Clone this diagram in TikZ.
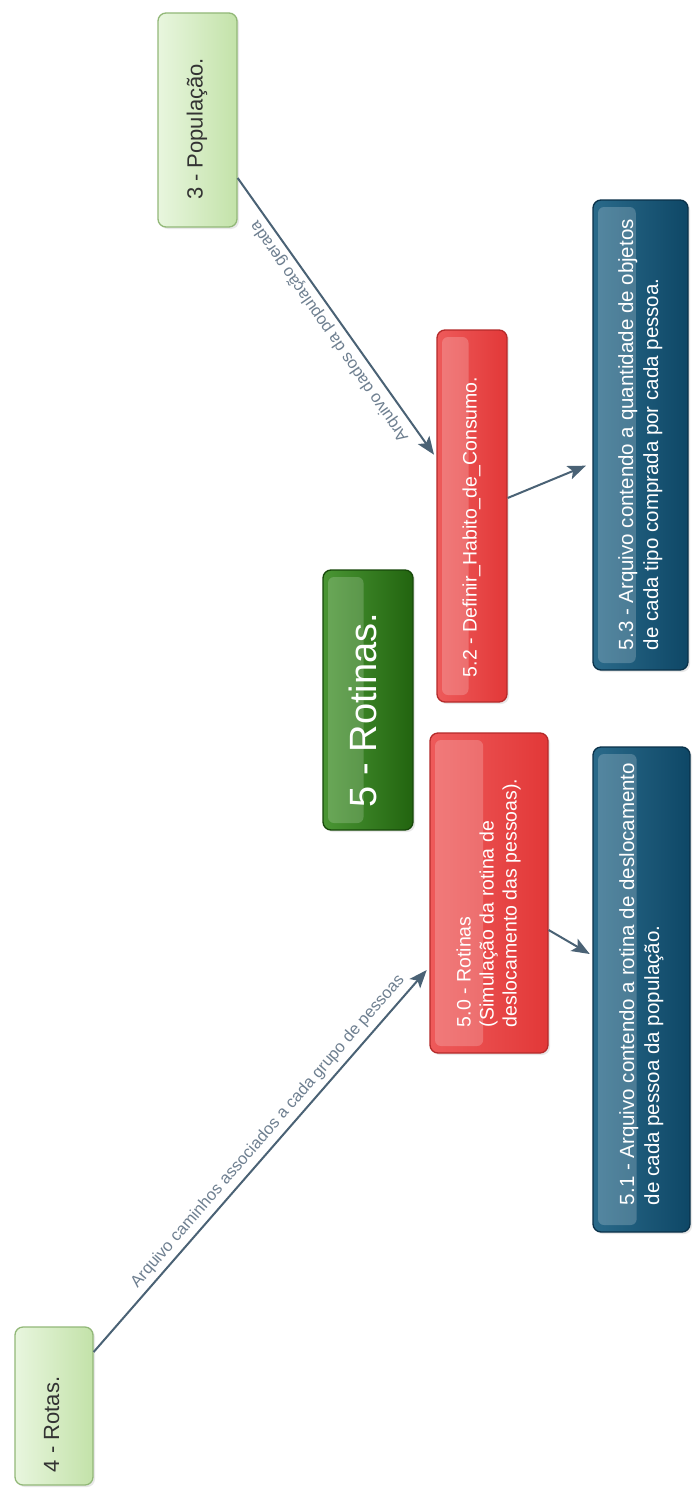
\documentclass[tikz,border=0pt]{standalone}
\usepackage{fontspec}
\usepackage{graphicx}
\setmainfont{Liberation Sans}
\usetikzlibrary{arrows.meta,calc,shadows}
\definecolor{lgA}{HTML}{E8F6DE}
\definecolor{lgB}{HTML}{C3E2A9}
\definecolor{lgD}{HTML}{92B878}
\definecolor{dgA}{HTML}{4A9634}
\definecolor{dgB}{HTML}{22640F}
\definecolor{dgD}{HTML}{17480A}
\definecolor{rdA}{HTML}{EE5A5A}
\definecolor{rdB}{HTML}{E23838}
\definecolor{rdD}{HTML}{B52A2A}
\definecolor{blA}{HTML}{2A6A8A}
\definecolor{blB}{HTML}{0E4766}
\definecolor{blD}{HTML}{0A3149}
\definecolor{arrc}{HTML}{4A6275}
\definecolor{lblc}{HTML}{6E7F90}
\definecolor{txtc}{HTML}{333333}
\newcommand\vtext[2]{\rotatebox{90}{\makebox[#1][l]{\begin{tabular}{@{}l@{}}#2\end{tabular}}}}
\tikzset{
  base/.style={rounded corners=8pt, line width=1.3pt, inner sep=0pt,
    drop shadow={opacity=.18, shadow xshift=2pt, shadow yshift=-2pt}},
  hl/.style={path picture={\fill[white,opacity=#1,rounded corners=6pt]
     ([shift={(5pt,-7pt)}]path picture bounding box.north west) rectangle
     ($(path picture bounding box.south west)!0.45!(path picture bounding box.south east)+(0pt,7pt)$);}},
  lgbox/.style={base, draw=lgD, left color=lgA, right color=lgB, text=txtc,
    font=\fontsize{22}{26}\selectfont},
  dgbox/.style={base, draw=dgD, left color=dgA, right color=dgB, text=white, hl=.18,
    font=\fontsize{38}{44}\selectfont},
  rdbox/.style={base, draw=rdD, left color=rdA, right color=rdB, text=white, hl=.2,
    font=\fontsize{19.5}{23}\selectfont},
  blbox/.style={base, draw=blD, left color=blA, right color=blB, text=white, hl=.2,
    font=\fontsize{20.5}{25}\selectfont},
  conn/.style={draw=arrc, line width=2pt, -{Stealth[length=18pt,width=14pt,inset=4pt]}},
  lbl/.style={text=lblc, font=\fontsize{16.5}{19}\selectfont, inner sep=5pt}
}
\begin{document}
\begin{tikzpicture}[x=1pt,y=-1pt]
\useasboundingbox (0,0) rectangle (693,1490);
\fill[white] (0,0) rectangle (693,1490);

\node[lgbox, minimum width=79pt, minimum height=214pt] (pop) at (197.5,120)
  {\vtext{160pt}{3 - População.}};
\node[lgbox, minimum width=78pt, minimum height=158pt] (rotas) at (54,1406)
  {\vtext{132pt}{4 - Rotas.}};
\node[dgbox, minimum width=90pt, minimum height=260pt] (rot5) at (368,700)
  {\vtext{214pt}{5 - Rotinas.}};
\node[rdbox, minimum width=70pt, minimum height=372pt] (c52) at (472,516)
  {\vtext{322pt}{5.2 - Definir\_Habito\_de\_Consumo.}};
\node[rdbox, minimum width=118pt, minimum height=320pt] (c50) at (489,893)
  {\vtext{268pt}{5.0 - Rotinas\\(Simulação da rotina de\\deslocamento das pessoas).}};
\node[blbox, minimum width=95pt, minimum height=470pt] (c53) at (640.5,435)
  {\vtext{430pt}{5.3 - Arquivo contendo a quantidade de objetos\\de cada tipo comprada por cada pessoa.}};
\node[blbox, minimum width=97pt, minimum height=485pt] (c51) at (641.5,989.5)
  {\vtext{431pt}{5.1 - Arquivo contendo a rotina de deslocamento\\de cada pessoa da população.}};

\draw[conn, shorten >=4pt] ([yshift=-58pt]pop.east) --
  node[lbl, pos=.52, rotate=124.7, anchor=south] {Arquivo dados da população gerada}
  ([yshift=58pt]c52.west);
\draw[conn, shorten >=4pt] ([yshift=54pt]rotas.east) --
  node[lbl, pos=.55, rotate=49.1, anchor=south] {Arquivo caminhos associados a cada grupo de pessoas}
  ([yshift=-74pt]c50.west);
\draw[conn, shorten >=7pt] ([yshift=18pt]c52.east) -- ([yshift=-28pt]c53.west);
\draw[conn, shorten >=3pt] ([yshift=-37pt]c50.east) -- ([yshift=34pt]c51.west);
\end{tikzpicture}
\end{document}
